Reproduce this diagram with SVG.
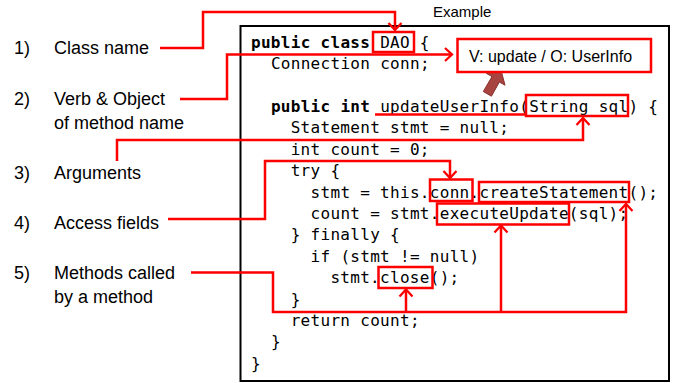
<svg xmlns="http://www.w3.org/2000/svg" width="676" height="383" viewBox="0 0 676 383">
  <style>
    .label { font-family: "Liberation Sans", Arial, sans-serif; font-size: 18px; fill: #000; }
    .title { font-family: "Liberation Sans", Arial, sans-serif; font-size: 15px; fill: #000; }
    .code { font-family: "DejaVu Sans Mono", "Liberation Mono", monospace; font-size: 16px; letter-spacing: 0.3px; fill: #000; }
    .kw { font-weight: bold; }
    .hl { fill: none; stroke: #ff0000; stroke-width: 2.5; }
    .wire { fill: none; stroke: #ff0000; stroke-width: 2.5; stroke-linejoin: miter; }
    .arrow { marker-end: url(#head); }
  </style>
  <defs>
    <marker id="head" markerUnits="userSpaceOnUse" markerWidth="12" markerHeight="16" refX="9" refY="8" orient="auto" overflow="visible">
      <path d="M2,1.5 L9,8 L2,14.5" fill="none" stroke="#ff0000" stroke-width="2.3"/>
    </marker>
  </defs>

  <rect width="676" height="383" fill="#ffffff"/>

  <!-- numbered captions -->
  <g id="caption-1">
    <text class="label" x="14" y="53.5">1)</text>
    <text class="label" x="54" y="53.5">Class name</text>
  </g>
  <g id="caption-2">
    <text class="label" x="14" y="105">2)</text>
    <text class="label" x="54" y="105">Verb &amp; Object</text>
    <text class="label" x="54" y="129">of method name</text>
  </g>
  <g id="caption-3">
    <text class="label" x="14" y="179">3)</text>
    <text class="label" x="54" y="179">Arguments</text>
  </g>
  <g id="caption-4">
    <text class="label" x="14" y="229">4)</text>
    <text class="label" x="54" y="229">Access fields</text>
  </g>
  <g id="caption-5">
    <text class="label" x="14" y="279">5)</text>
    <text class="label" x="54" y="279">Methods called</text>
    <text class="label" x="54" y="303">by a method</text>
  </g>

  <!-- code listing -->
  <g id="example">
    <text class="title" x="433" y="17">Example</text>
    <rect x="240.5" y="26" width="428.5" height="355" fill="none" stroke="#000" stroke-width="2"/>
    <text class="code" x="251" y="47.5"><tspan class="kw">public class</tspan> DAO {</text>
    <text class="code" x="270.9" y="69">Connection conn;</text>
    <text class="code" x="270.9" y="112"><tspan class="kw">public int</tspan> updateUserInfo(String sql) {</text>
    <text class="code" x="290.7" y="133.4">Statement stmt = null;</text>
    <text class="code" x="290.7" y="154.8">int count = 0;</text>
    <text class="code" x="290.7" y="176.2">try {</text>
    <text class="code" x="310.6" y="197.6">stmt = this.conn.createStatement();</text>
    <text class="code" x="310.6" y="219">count = stmt.executeUpdate(sql);</text>
    <text class="code" x="290.7" y="240.4">} finally {</text>
    <text class="code" x="310.6" y="261.8">if (stmt != null)</text>
    <text class="code" x="330.4" y="283.2">stmt.close();</text>
    <text class="code" x="290.7" y="304.6">}</text>
    <text class="code" x="290.7" y="326">return count;</text>
    <text class="code" x="270.9" y="347.4">}</text>
    <text class="code" x="251" y="368.8">}</text>
  </g>

  <!-- highlighted tokens -->
  <g id="highlights">
    <rect class="hl" x="373" y="32" width="41" height="20"/>
    <rect class="hl" x="526" y="95" width="102" height="21"/>
    <rect class="hl" x="430" y="179.5" width="42.5" height="21.5"/>
    <rect class="hl" x="479" y="182" width="150" height="20"/>
    <rect class="hl" x="437" y="203.5" width="132" height="21"/>
    <rect class="hl" x="378.5" y="267" width="54" height="21"/>
    <line class="hl" x1="375" y1="114.5" x2="527" y2="114.5"/>
  </g>

  <!-- verb / object callout -->
  <g id="verb-object">
    <path d="M483.3,91.5 L491.4,96.2 L499.4,82 L505,85.2 L500.8,69.5 L486.4,73.4 L492,76.6 Z" fill="#a8443f" stroke="#8a302c" stroke-width="1"/>
    <rect x="457.5" y="39" width="193.5" height="33" fill="#ffffff" stroke="#ff0000" stroke-width="2.5"/>
    <text class="label" x="469" y="62" style="font-size:16px">V: update / O: UserInfo</text>
  </g>

  <!-- connectors -->
  <g id="connectors">
    <polyline class="wire arrow" points="160,48 203,48 203,12 395,12 395,30"/>
    <polyline class="wire arrow" points="180,99 227,99 227,54.5 452,54.5"/>
    <polyline class="wire arrow" points="117,161 117,140 583,140 583,118"/>
    <polyline class="wire arrow" points="168,219 265,219 265,161 450,161 450,178"/>
    <polyline class="wire arrow" points="191,272.5 273,272.5 273,312 626,312 626,204"/>
    <polyline class="wire arrow" points="406,312 406,289.5"/>
    <polyline class="wire arrow" points="501,312 501,225.5"/>
  </g>
</svg>
